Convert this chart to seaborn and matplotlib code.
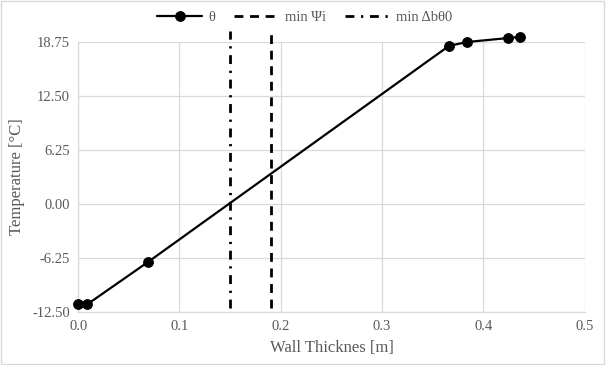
import matplotlib
matplotlib.use("Agg")
import matplotlib.pyplot as plt
import matplotlib.patches as patches
import seaborn as sns
import pandas as pd

# Temperature profile through the wall
thickness = [0.0, 0.009, 0.069, 0.366, 0.384, 0.424, 0.436]
temperature = [-11.6, -11.6, -6.7, 18.3, 18.75, 19.2, 19.35]

# Vertical reference lines
min_psi_x = 0.190
min_db_x = 0.150
vline_y = [-12.0, 20.0]

x_ticks = [0.0, 0.1, 0.2, 0.3, 0.4, 0.5]
x_tick_labels = ["0.0", "0.1", "0.2", "0.3", "0.4", "0.5"]
y_ticks = [-12.5, -6.25, 0.0, 6.25, 12.5, 18.75]
y_tick_labels = ["-12.50", "-6.25", "0.00", "6.25", "12.50", "18.75"]

df = pd.DataFrame({"x": thickness, "y": temperature})

sns.set_theme(style="whitegrid")
plt.rcParams["font.family"] = ["Liberation Serif", "DejaVu Serif"]

text_color = "#595959"
grid_color = "#d9d9d9"

fig = plt.figure(figsize=(6.06, 3.65), dpi=100)
ax = fig.add_axes([0.129, 0.145, 0.836, 0.740])

sns.lineplot(data=df, x="x", y="y", ax=ax, color="black", linewidth=1.6,
             marker="o", markersize=7, markeredgecolor="black", label="θ",
             clip_on=False, zorder=5)
ax.plot([min_psi_x, min_psi_x], vline_y, color="black", linewidth=2,
        linestyle=(0, (3.2, 2.4)), label="min Ψi", clip_on=False)
ax.plot([min_db_x, min_db_x], vline_y, color="black", linewidth=2,
        linestyle=(0, (3.2, 2.4, 0.8, 2.4)), label="min Δbθ0", clip_on=False)

ax.set_xlim(0, 0.5)
ax.set_ylim(-12.5, 18.75)
ax.set_xticks(x_ticks)
ax.set_xticklabels(x_tick_labels)
ax.set_yticks(y_ticks)
ax.set_yticklabels(y_tick_labels)

ax.grid(True, color=grid_color, linewidth=0.9)
for side in ["top", "right"]:
    ax.spines[side].set_visible(False)
for side in ["left", "bottom"]:
    ax.spines[side].set_color(grid_color)
    ax.spines[side].set_linewidth(0.9)

ax.tick_params(axis="both", labelsize=10.5, colors=text_color, length=0, pad=6)
ax.set_xlabel("Wall Thicknes [m]", fontsize=12, color=text_color, labelpad=5)
ax.set_ylabel("Temperature [°C]", fontsize=12, color=text_color, labelpad=5)

leg = ax.legend(loc="upper center", bbox_to_anchor=(0.447, 1.165), ncol=3,
                frameon=False, fontsize=10.5, handlelength=3.1,
                columnspacing=1.3, handletextpad=0.4)
for t in leg.get_texts():
    t.set_color(text_color)

fig.patches.append(patches.Rectangle((0.002, 0.003), 0.995, 0.993,
                                     transform=fig.transFigure, fill=False,
                                     edgecolor=grid_color, linewidth=1))

fig.savefig("out.png", dpi=100)
